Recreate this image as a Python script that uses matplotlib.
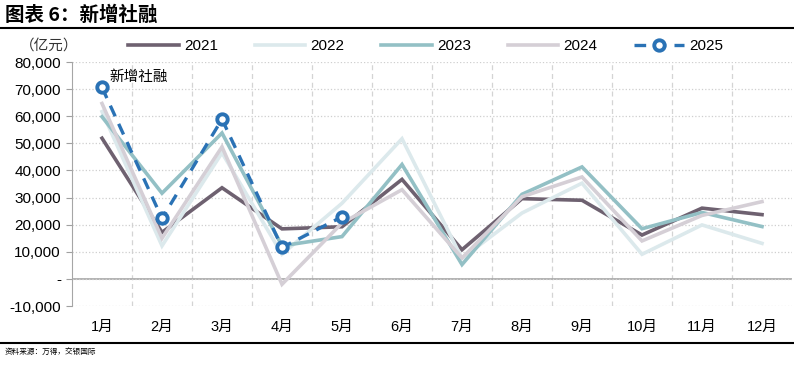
import numpy as np
import matplotlib.pyplot as plt
from matplotlib.lines import Line2D

plt.rcParams['font.family'] = ['Liberation Sans', 'Noto Sans CJK SC']

months = ["1月", "2月", "3月", "4月", "5月", "6月", "7月", "8月", "9月", "10月", "11月", "12月"]
s2021 = [51893, 17160, 33613, 18450, 19237, 36700, 10752, 29600, 29000, 16176, 26100, 23700]
s2022 = [61700, 12200, 46500, 9102, 27900, 51700, 7561, 24300, 35300, 9079, 19900, 13100]
s2023 = [59800, 31600, 53800, 12200, 15600, 42200, 5282, 31200, 41300, 18500, 24500, 19300]
s2024 = [64700, 15000, 48700, -1987, 20600, 32900, 7708, 30300, 37600, 14000, 23400, 28500]
s2025 = [70600, 22300, 58900, 11600, 22900]

yticks = [-10000, 0, 10000, 20000, 30000, 40000, 50000, 60000, 70000, 80000]
ytick_labels = ["-10,000", "-", "10,000", "20,000", "30,000", "40,000",
                "50,000", "60,000", "70,000", "80,000"]

fig = plt.figure(figsize=(7.94, 3.73), dpi=100)
ax = fig.add_axes([72 / 794, 1 - 306 / 373, 720 / 794, 244 / 373])

x = np.arange(len(months))
styles = [
    ("2021", s2021, "#6e6170"),
    ("2022", s2022, "#dce9ec"),
    ("2023", s2023, "#93c0c5"),
    ("2024", s2024, "#d5cfd6"),
]
handles = []
for name, vals, color in styles:
    h, = ax.plot(x, vals, color=color, lw=2.6, label=name, solid_joinstyle="miter")
    handles.append(h)

h25, = ax.plot(np.arange(len(s2025)), s2025, color="#2a72b5", lw=2.4, ls=(0, (3.5, 2.5)),
               marker="o", ms=7.5, mfc="white", mec="#2a72b5", mew=2.8, label="2025", zorder=5)
handles.append(h25)

ax.set_xlim(-0.5, 11.5)
ax.set_ylim(-10000, 80000)
ax.set_yticks(yticks)
ax.set_yticklabels(ytick_labels, fontsize=11)
ax.set_xticks(x)
ax.set_xticklabels(months, fontsize=10.5)
ax.tick_params(axis="x", length=0, pad=10)
ax.tick_params(axis="y", length=4, color="#a0a0a0", pad=4)

ax.grid(axis="y", color="#cfcfcf", ls=":", lw=0.9)
for b in np.arange(0.5, 11.5, 1):
    ax.axvline(b, color="#d4d4d4", ls=(0, (4, 3)), lw=0.9, zorder=0)
ax.axhline(0, color="#a6a6a6", lw=1.2, zorder=1)

for side in ["top", "right", "bottom"]:
    ax.spines[side].set_visible(False)
ax.spines["left"].set_color("#a6a6a6")

ax.text(0.12, 74500, "新增社融", fontsize=10.5, family=["Noto Sans CJK SC"], va="center")

fig.text(20 / 794, 1 - 46 / 373, "（亿元）", fontsize=10.5, family=["Noto Sans CJK SC"],
         va="center", color="#333333")

fig.legend(handles=handles, loc="center", bbox_to_anchor=(426 / 794, 1 - 46 / 373), ncol=5,
           frameon=False, fontsize=11, handlelength=3.3, columnspacing=2.4, handletextpad=0.35,
           borderpad=0.2)

fig.text(5 / 794, 1 - 15 / 373, "图表 6：新增社融", fontsize=14, fontweight="bold",
         family=["Noto Sans CJK SC"], va="center")
fig.add_artist(Line2D([0, 1], [1 - 28 / 373, 1 - 28 / 373], color="black", lw=1.5))
fig.add_artist(Line2D([0, 1], [1 - 343 / 373, 1 - 343 / 373], color="black", lw=1.5))
fig.text(5 / 794, 1 - 352 / 373, "资料来源：万得，交银国际", fontsize=5.5, style="italic",
         family=["Noto Sans CJK SC"], va="center")

fig.savefig("out.png", dpi=100)
